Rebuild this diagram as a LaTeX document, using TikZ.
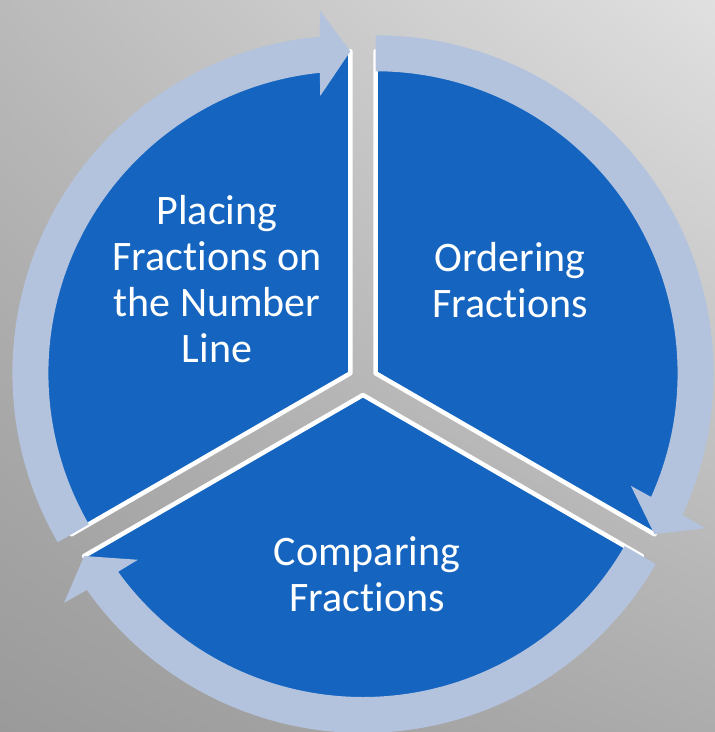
\documentclass[tikz,border=0pt]{standalone}
\usepackage{fontspec}
\setmainfont{Carlito}[Ligatures=NoCommon,Contextuals=NoAlternate]
\usetikzlibrary{shadings}
\definecolor{segblue}{HTML}{1565C0}
\definecolor{ringblue}{HTML}{B3C3DE}
\definecolor{bgTL}{HTML}{BABABA}
\definecolor{bgTR}{HTML}{E0E0E0}
\definecolor{bgBL}{HTML}{9A9A9A}
\definecolor{bgBR}{HTML}{ACACAC}
\begin{document}
\begin{tikzpicture}[x=1pt,y=1pt,
  sector/.style={fill=segblue,draw=white,line width=4.5pt,line join=round},
  ringarrow/.style={fill=ringblue},
  label/.style={text=white,align=center,inner sep=0pt,
    font=\fontsize{42}{46}\selectfont}]
\useasboundingbox (0,0) rectangle (715,-732);
\shade[upper left=bgTL,upper right=bgTR,lower left=bgBL,lower right=bgBR]
  (0,0) rectangle (715,-732);

% centres of the three exploded segments
\coordinate (P) at (350.4,-373.25);
\coordinate (Q) at (375.6,-373.25);
\coordinate (C) at (363,-395);

% pie segments
\path[sector] (P) -- ++(90:322) arc[start angle=90,end angle=210,radius=322] -- cycle;
\path[sector] (Q) -- ++(-30:322) arc[start angle=-30,end angle=90,radius=322] -- cycle;
\path[sector] (C) -- ++(210:322) arc[start angle=210,end angle=330,radius=322] -- cycle;

% circular arrows around each segment (clockwise)
\begin{scope}[shift={(P)}]
\fill[ringarrow] (210:302) arc[start angle=210,end angle=95.82,radius=302]
  -- (96.2:279) -- (90:322) -- (94.8:364) -- (95.23:338)
  arc[start angle=95.23,end angle=210,radius=338] -- cycle;
\end{scope}
\begin{scope}[shift={(Q)}]
\fill[ringarrow] (90:302) arc[start angle=90,end angle=-24.18,radius=302]
  -- (-23.8:279) -- (-30:322) -- (-25.2:364) -- (-24.77:338)
  arc[start angle=-24.77,end angle=90,radius=338] -- cycle;
\end{scope}
\begin{scope}[shift={(C)}]
\fill[ringarrow] (330:302) arc[start angle=330,end angle=215.82,radius=302]
  -- (216.2:279) -- (210:322) -- (214.8:364) -- (215.23:338)
  arc[start angle=215.23,end angle=330,radius=338] -- cycle;
\end{scope}

% segment labels
\node[label] (placing) at (217,-279) {Placing\\Fractions on\\the Number\\Line};
\node[label] (ordering) at (510,-280) {Ordering\\Fractions};
\node[label] (comparing) at (367,-574) {Comparing\\Fractions};
\end{tikzpicture}
\end{document}
